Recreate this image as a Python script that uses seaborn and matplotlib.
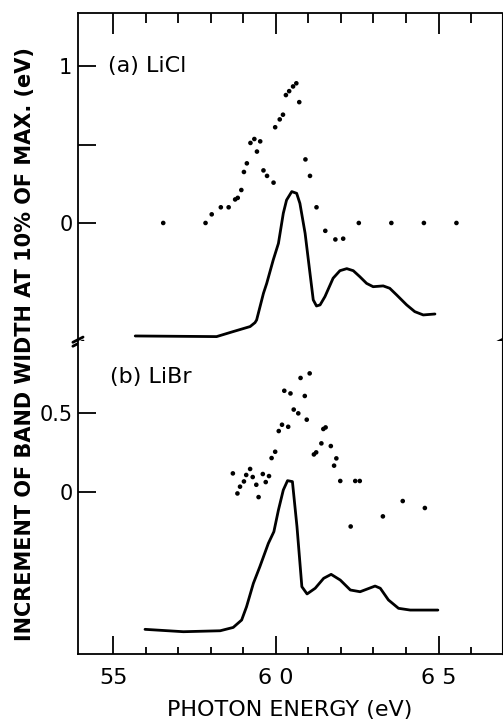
import numpy as np
import pandas as pd
import matplotlib
matplotlib.use("Agg")
import matplotlib.pyplot as plt
import seaborn as sns

# (a) LiCl - increment of band width (dots)
licl_x = [56.54, 57.84, 58.03, 58.31, 58.55, 58.75, 58.83, 58.94, 59.02, 59.11,
          59.22, 59.34, 59.52, 59.42, 59.62, 59.73, 59.93, 59.98, 60.12, 60.22,
          60.31, 60.41, 60.53, 60.63, 60.72, 60.91, 61.05, 61.25, 61.52, 61.83,
          62.07, 62.55, 63.55, 64.55, 65.55]
licl_y = [0.0, 0.0, 0.055, 0.10, 0.10, 0.15, 0.16, 0.21, 0.325, 0.38,
          0.51, 0.535, 0.52, 0.455, 0.335, 0.30, 0.257, 0.61, 0.66, 0.69,
          0.815, 0.84, 0.87, 0.89, 0.77, 0.405, 0.30, 0.10, -0.05, -0.105,
          -0.10, 0.0, 0.0, 0.0, 0.0]

# (a) LiCl - absorption spectrum (arbitrary units, drawn on same axis)
licl_spec_x = [55.68, 58.18, 58.69, 59.21, 59.36, 59.41, 59.62, 59.72, 59.92, 60.08,
               60.23, 60.33, 60.49, 60.64, 60.74, 60.90, 61.05, 61.15, 61.25, 61.36,
               61.51, 61.76, 61.97, 62.18, 62.38, 62.58, 62.79, 62.99, 63.30, 63.50,
               63.71, 64.02, 64.27, 64.53, 64.89]
licl_spec_y = [-0.720, -0.724, -0.692, -0.660, -0.635, -0.618, -0.448, -0.385, -0.236, -0.130,
               0.062, 0.146, 0.200, 0.189, 0.125, -0.066, -0.321, -0.490, -0.529, -0.522,
               -0.469, -0.352, -0.304, -0.291, -0.304, -0.342, -0.385, -0.406, -0.401, -0.416,
               -0.458, -0.522, -0.565, -0.586, -0.580]

# (b) LiBr - increment of band width (dots)
libr_x = [58.68, 58.82, 58.90, 59.02, 59.09, 59.21, 59.29, 59.40, 59.47, 59.60,
          59.69, 59.79, 59.87, 59.98, 60.09, 60.19, 60.38, 60.55, 60.69, 60.26,
          60.45, 60.76, 61.04, 60.89, 60.95, 61.46, 61.53, 61.17, 61.24, 61.40,
          61.69, 61.86, 61.79, 61.98, 62.44, 62.58, 62.30, 63.29, 63.90, 64.58]
libr_y = [0.116, -0.011, 0.032, 0.065, 0.106, 0.144, 0.093, 0.044, -0.034, 0.112,
          0.061, 0.099, 0.213, 0.253, 0.384, 0.424, 0.411, 0.520, 0.496, 0.639,
          0.622, 0.720, 0.749, 0.606, 0.456, 0.397, 0.407, 0.236, 0.249, 0.306,
          0.289, 0.211, 0.165, 0.068, 0.068, 0.068, -0.220, -0.156, -0.059, -0.103]

# (b) LiBr - absorption spectrum
libr_spec_x = [55.98, 57.16, 58.29, 58.69, 58.95, 59.10, 59.31, 59.51, 59.77, 59.94,
               60.08, 60.23, 60.36, 60.51, 60.65, 60.80, 60.96, 61.21, 61.47, 61.70,
               61.98, 62.29, 62.59, 63.05, 63.21, 63.46, 63.77, 64.13, 64.98]
libr_spec_y = [-0.871, -0.886, -0.880, -0.859, -0.812, -0.728, -0.580, -0.474, -0.327, -0.253,
               -0.116, 0.011, 0.070, 0.064, -0.221, -0.601, -0.647, -0.611, -0.548, -0.523,
               -0.559, -0.622, -0.633, -0.597, -0.611, -0.685, -0.738, -0.749, -0.749]

x_major = [55, 60, 65]
x_minor = [56, 57, 58, 59, 61, 62, 63, 64, 66]

sns.set_style("ticks")
plt.rcParams['font.family'] = ['DejaVu Sans']
plt.rcParams['text.color'] = 'black'
plt.rcParams['axes.labelcolor'] = 'black'
plt.rcParams['xtick.color'] = 'black'
plt.rcParams['ytick.color'] = 'black'

fig, (ax1, ax2) = plt.subplots(
    2, 1, sharex=True, figsize=(5.03, 7.22), dpi=100,
    gridspec_kw={'height_ratios': [328, 313], 'hspace': 0})
fig.subplots_adjust(left=0.155, right=0.998, top=0.982, bottom=0.0942)

panels = [
    (ax1, licl_x, licl_y, licl_spec_x, licl_spec_y, "(a) LiCl"),
    (ax2, libr_x, libr_y, libr_spec_x, libr_spec_y, "(b) LiBr"),
]
for ax, dx, dy, sx, sy, label in panels:
    sns.scatterplot(x=dx, y=dy, ax=ax, color='black', s=11,
                    edgecolor='none', legend=False)
    sns.lineplot(x=sx, y=sy, ax=ax, color='black', linewidth=2.0, sort=False,
                 estimator=None)
    for sp in ax.spines.values():
        sp.set_linewidth(1.3)
        sp.set_color('black')

ax1.set_xlim(53.92, 66.95)
ax1.set_ylim(-0.752, 1.338)
ax2.set_ylim(-1.027, 0.954)

ax1.spines['bottom'].set_visible(False)
ax2.spines['top'].set_visible(False)
ax2.spines['right'].set_linewidth(0.8)
ax1.spines['right'].set_linewidth(0.8)

# x ticks: top of panel (a), bottom of panel (b)
ax2.set_xticks(x_major)
ax2.set_xticks(x_minor, minor=True)
ax2.set_xticklabels(['55', '6 0', '6 5'])
ax1.tick_params(axis='x', which='both', bottom=False, top=True,
                labelbottom=False, direction='in')
ax1.tick_params(axis='x', which='major', length=15, width=1.3)
ax1.tick_params(axis='x', which='minor', length=7, width=1.3)
ax2.tick_params(axis='x', which='major', length=13, width=1.3,
                direction='in', labelsize=16, pad=10)
ax2.tick_params(axis='x', which='minor', length=5, width=1.3, direction='in')

ax1.set_yticks([0, 0.5, 1])
ax1.set_yticklabels(['0', '', '1'])
ax2.set_yticks([0, 0.5])
ax2.set_yticklabels(['0', '0.5'])
for ax in (ax1, ax2):
    ax.tick_params(axis='y', which='major', direction='in', length=13,
                   width=1.3, labelsize=15, pad=4)
    ax.set_ylabel('')
ax2.set_xlabel('PHOTON ENERGY (eV)', fontsize=16, labelpad=9)

ax1.text(54.85, 1.0, "(a) LiCl", fontsize=16, va='center', ha='left')
ax2.text(54.9, 0.726, "(b) LiBr", fontsize=16, va='center', ha='left')

fig.text(0.05, 0.524, "INCREMENT OF BAND WIDTH AT 10% OF MAX. (eV)",
         rotation=90, ha='center', va='center', fontsize=15,
         fontweight='bold')

# axis break marks on both vertical spines
for xa in (0.0, 1.0):
    ax1.plot([xa - 0.012, xa + 0.012], [-0.004, 0.012], transform=ax1.transAxes,
             color='black', lw=2, clip_on=False)
    ax1.plot([xa - 0.012, xa + 0.012], [-0.016, 0.0], transform=ax1.transAxes,
             color='black', lw=2, clip_on=False)

fig.savefig("out.png", dpi=100)
